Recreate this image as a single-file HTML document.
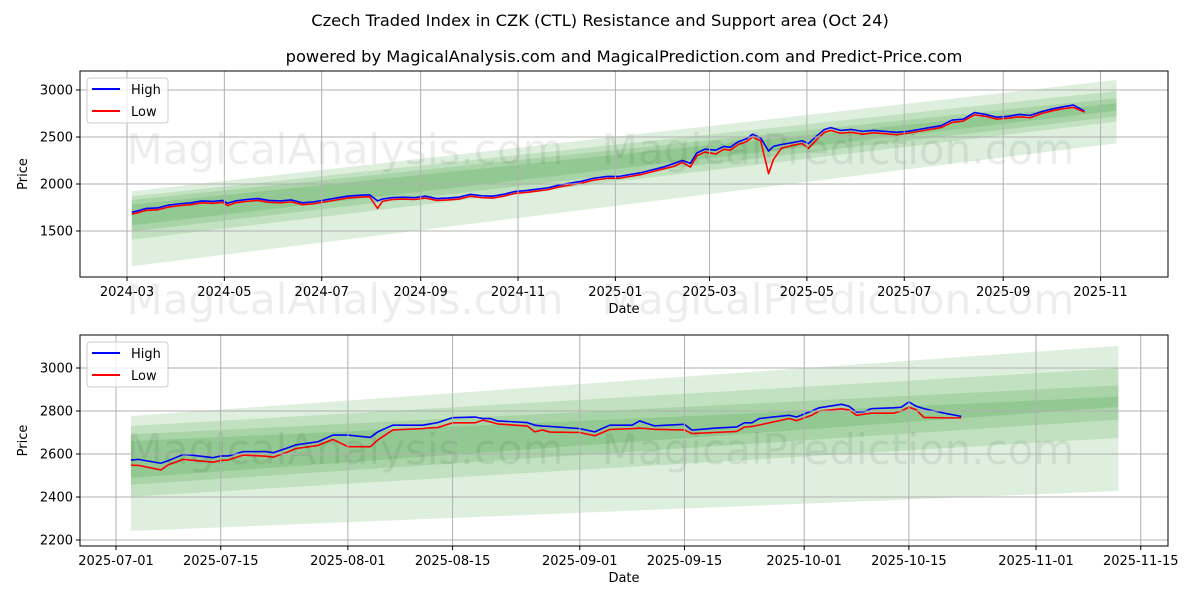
<!DOCTYPE html>
<html><head><meta charset="utf-8"><style>
body{margin:0;background:#fff}
svg{display:block;font-family:"DejaVu Sans","Liberation Sans",sans-serif}
</style></head><body>
<svg id="chart" width="1200" height="600" viewBox="0 0 1200 600" xmlns="http://www.w3.org/2000/svg">
<rect width="1200" height="600" fill="#fff"/>
<text x="600" y="26" text-anchor="middle" font-size="16.3">Czech Traded Index in CZK (CTL) Resistance and Support area (Oct 24)</text>
<text x="624" y="62" text-anchor="middle" font-size="16.3">powered by MagicalAnalysis.com and MagicalPrediction.com and Predict-Price.com</text>
<g id="top"></g>
<g id="bot"></g>
</svg>
<script>
const topDates=["2024-03-04","2024-03-08","2024-03-13","2024-03-20","2024-03-27","2024-04-03","2024-04-10","2024-04-17","2024-04-24","2024-04-30","2024-05-03","2024-05-08","2024-05-15","2024-05-22","2024-05-29","2024-06-05","2024-06-12","2024-06-19","2024-06-26","2024-07-03","2024-07-10","2024-07-17","2024-07-24","2024-07-31","2024-08-05","2024-08-08","2024-08-14","2024-08-21","2024-08-28","2024-09-04","2024-09-11","2024-09-18","2024-09-25","2024-10-02","2024-10-09","2024-10-16","2024-10-23","2024-10-30","2024-11-06","2024-11-13","2024-11-20","2024-11-27","2024-12-04","2024-12-11","2024-12-18","2024-12-27","2025-01-03","2025-01-10","2025-01-17","2025-01-24","2025-01-31","2025-02-07","2025-02-12","2025-02-17","2025-02-21","2025-02-26","2025-03-05","2025-03-10","2025-03-14","2025-03-19","2025-03-24","2025-03-28","2025-04-02","2025-04-07","2025-04-10","2025-04-15","2025-04-22","2025-04-28","2025-05-02","2025-05-07","2025-05-12","2025-05-16","2025-05-22","2025-05-29","2025-06-05","2025-06-12","2025-06-19","2025-06-26","2025-07-03","2025-07-10","2025-07-17","2025-07-24","2025-07-31","2025-08-07","2025-08-14","2025-08-21","2025-08-28","2025-09-04","2025-09-11","2025-09-18","2025-09-25","2025-10-02","2025-10-08","2025-10-15","2025-10-22"];
const topHigh=[1700,1715,1740,1745,1775,1790,1800,1820,1815,1825,1795,1820,1835,1845,1825,1820,1830,1800,1810,1830,1850,1870,1880,1885,1820,1840,1855,1860,1855,1870,1845,1850,1860,1890,1875,1870,1890,1920,1930,1945,1960,1990,2010,2030,2060,2080,2080,2100,2120,2150,2180,2220,2250,2220,2330,2370,2360,2400,2390,2450,2480,2530,2490,2350,2400,2420,2440,2460,2430,2510,2580,2600,2570,2580,2560,2570,2560,2550,2560,2580,2600,2620,2680,2690,2760,2740,2710,2720,2740,2730,2770,2800,2820,2840,2775];
const topLow=[1680,1695,1720,1725,1755,1770,1780,1800,1795,1805,1770,1800,1815,1825,1805,1800,1810,1780,1790,1810,1830,1850,1860,1865,1740,1815,1835,1840,1835,1850,1825,1830,1840,1870,1855,1850,1870,1900,1910,1925,1940,1970,1990,2010,2040,2060,2060,2080,2100,2130,2160,2190,2230,2180,2300,2340,2320,2370,2360,2420,2450,2500,2460,2110,2260,2380,2410,2430,2380,2470,2550,2570,2540,2550,2530,2545,2535,2525,2540,2560,2580,2600,2655,2670,2735,2720,2690,2700,2715,2705,2750,2780,2800,2815,2765];
const topBandStart="2024-03-04", topBandEnd="2025-11-11";
const topBandsLo0=[1125,1408,1496,1560], topBandsHi0=[1921,1868,1830,1780];
const topBandsLo1=[2434,2664,2720,2780], topBandsHi1=[3106,2990,2912,2860];
const topYTicks=[1500,2000,2500,3000];
const topXTicks=["2024-03","2024-05","2024-07","2024-09","2024-11","2025-01","2025-03","2025-05","2025-07","2025-09","2025-11"];

const botDates=["2025-07-03","2025-07-04","2025-07-07","2025-07-08","2025-07-10","2025-07-11","2025-07-14","2025-07-15","2025-07-16","2025-07-18","2025-07-21","2025-07-22","2025-07-24","2025-07-25","2025-07-28","2025-07-30","2025-08-01","2025-08-04","2025-08-05","2025-08-07","2025-08-11","2025-08-12","2025-08-13","2025-08-15","2025-08-18","2025-08-19","2025-08-20","2025-08-21","2025-08-25","2025-08-26","2025-08-27","2025-08-28","2025-09-01","2025-09-03","2025-09-05","2025-09-08","2025-09-09","2025-09-10","2025-09-11","2025-09-15","2025-09-16","2025-09-19","2025-09-22","2025-09-23","2025-09-24","2025-09-25","2025-09-29","2025-09-30","2025-10-02","2025-10-03","2025-10-06","2025-10-07","2025-10-08","2025-10-09","2025-10-10","2025-10-13","2025-10-14","2025-10-15","2025-10-16","2025-10-17","2025-10-20","2025-10-22"];
const botHigh=[2572,2575,2557,2569,2598,2595,2583,2591,2591,2611,2611,2606,2629,2642,2657,2688,2688,2677,2703,2734,2734,2740,2746,2769,2772,2765,2765,2754,2746,2734,2730,2728,2718,2703,2734,2734,2754,2742,2731,2738,2711,2720,2726,2745,2745,2765,2780,2772,2800,2815,2831,2822,2795,2797,2811,2815,2818,2842,2822,2811,2788,2775];
const botLow=[2548,2547,2526,2550,2575,2572,2562,2570,2572,2595,2590,2585,2610,2625,2640,2668,2634,2634,2665,2712,2718,2722,2723,2745,2745,2757,2750,2740,2730,2703,2712,2702,2700,2685,2714,2718,2720,2718,2715,2712,2695,2700,2705,2725,2728,2735,2765,2755,2780,2800,2810,2805,2780,2785,2790,2790,2800,2818,2805,2770,2768,2768];
const botBandStart="2025-07-03", botBandEnd="2025-11-12";
const botBandsLo0=[2242,2402,2457,2489], botBandsHi0=[2777,2730,2691,2660];
const botBandsLo1=[2428,2675,2760,2819], botBandsHi1=[3103,2998,2919,2866];
const botYTicks=[2200,2400,2600,2800,3000];
const botXTicks=["2025-07-01","2025-07-15","2025-08-01","2025-08-15","2025-09-01","2025-09-15","2025-10-01","2025-10-15","2025-11-01","2025-11-15"];

const NS="http://www.w3.org/2000/svg";
function mk(parent,tag,attrs){const e=document.createElementNS(NS,tag);for(const k in attrs)e.setAttribute(k,attrs[k]);parent.appendChild(e);return e;}
function dnum(s){const p=s.split("-").map(Number);return Date.UTC(p[0],p[1]-1,p[2]||1)/86400000;}

function panel(g,o){
  const L=80,R=1168,T=o.top,B=o.bottom;
  const X=d=>L+(dnum(d)-o.x0)/(o.x1-o.x0)*(R-L);
  const Y=v=>B-(v-o.y0)/(o.y1-o.y0)*(B-T);
  const defs=mk(g,"clipPath",{id:o.id+"clip"});mk(defs,"rect",{x:L,y:T,width:R-L,height:B-T});
  const c=mk(g,"g",{"clip-path":"url(#"+o.id+"clip)"});
  for(let i=0;i<o.lo0.length;i++){
    const p=mk(c,"polygon",{points:`${X(o.bs)},${Y(o.hi0[i])} ${X(o.be)},${Y(o.hi1[i])} ${X(o.be)},${Y(o.lo1[i])} ${X(o.bs)},${Y(o.lo0[i])}`,fill:"rgb(0,128,0)","fill-opacity":"0.13"});
    
    
  }
  [[345,o.wm1,"MagicalAnalysis.com"],[838,o.wm1,"MagicalPrediction.com"]].forEach(w=>{
    const t=mk(g,"text",{x:w[0],y:w[1],"text-anchor":"middle","font-size":"42",fill:"#000","fill-opacity":"0.07"});t.textContent=w[2];
    
    
  });
  o.yt.forEach(v=>{
    const y=Y(v);
    mk(g,"line",{x1:L,x2:R,y1:y,y2:y,stroke:"#b0b0b0","stroke-width":"1"});
    mk(g,"line",{x1:L-4,x2:L,y1:y,y2:y,stroke:"#000"});
    const t=mk(g,"text",{x:L-7,y:y+4.5,"text-anchor":"end","font-size":"13"});t.textContent=v;
    
    
  });
  o.xt.forEach(d=>{
    const x=X(d);
    mk(g,"line",{x1:x,x2:x,y1:T,y2:B,stroke:"#b0b0b0","stroke-width":"1"});
    mk(g,"line",{x1:x,x2:x,y1:B,y2:B+4,stroke:"#000"});
    const t=mk(g,"text",{x:x,y:B+19,"text-anchor":"middle","font-size":"13"});t.textContent=d;
    
    
  });
  const hp=o.dates.map((d,i)=>X(d)+","+Y(o.high[i])).join(" ");
  const lp=o.dates.map((d,i)=>X(d)+","+Y(o.low[i])).join(" ");
  const hl=mk(c,"polyline",{points:hp,fill:"none",stroke:"#0000ff","stroke-width":"1.6","stroke-linejoin":"round"});
  
  
  const ll=mk(c,"polyline",{points:lp,fill:"none",stroke:"#ff0000","stroke-width":"1.6","stroke-linejoin":"round"});
  
  
  mk(g,"rect",{x:L,y:T,width:R-L,height:B-T,fill:"none",stroke:"#000","stroke-width":"1"});
  const yl=mk(g,"text",{x:27,y:(T+B)/2,"text-anchor":"middle","font-size":"13",transform:`rotate(-90 27 ${(T+B)/2})`});yl.textContent="Price";
  
  
  const xl=mk(g,"text",{x:624,y:B+36,"text-anchor":"middle","font-size":"13"});xl.textContent="Date";
  
  
  const lg=mk(g,"g",{});
  
  
  mk(lg,"rect",{x:87,y:T+7,width:81,height:45,rx:3,fill:"#fff","fill-opacity":"0.8",stroke:"#ccc"});
  mk(lg,"line",{x1:92,x2:120,y1:T+18,y2:T+18,stroke:"#0000ff","stroke-width":"2"});
  mk(lg,"line",{x1:92,x2:120,y1:T+40,y2:T+40,stroke:"#ff0000","stroke-width":"2"});
  const t1=mk(lg,"text",{x:131,y:T+23,"font-size":"13"});t1.textContent="High";
  
  
  const t2=mk(lg,"text",{x:131,y:T+45,"font-size":"13"});t2.textContent="Low";
  
  
}
const tx0=dnum("2024-03-01")-(127-80)/1.596, tx1=tx0+1088/1.596;
panel(document.getElementById("top"),{id:"t",top:71,bottom:277,x0:tx0,x1:tx1,y0:1500-46*500/47,y1:3000+19*500/47,
  yt:topYTicks,xt:topXTicks,dates:topDates,high:topHigh,low:topLow,bs:topBandStart,be:topBandEnd,
  lo0:topBandsLo0,hi0:topBandsHi0,lo1:topBandsLo1,hi1:topBandsHi1,wm1:164});
const bx0=dnum("2025-07-01")-(116-80)/7.48, bx1=bx0+1088/7.48;
panel(document.getElementById("bot"),{id:"b",top:335,bottom:546,x0:bx0,x1:bx1,y0:2200-6*200/43,y1:3000+33*200/43,
  yt:botYTicks,xt:botXTicks,dates:botDates,high:botHigh,low:botLow,bs:botBandStart,be:botBandEnd,
  lo0:botBandsLo0,hi0:botBandsHi0,lo1:botBandsLo1,hi1:botBandsHi1,wm1:464});
[[345,"MagicalAnalysis.com"],[838,"MagicalPrediction.com"]].forEach(w=>{
  const t=mk(document.getElementById("chart"),"text",{x:w[0],y:314,"text-anchor":"middle","font-size":"42",fill:"#000","fill-opacity":"0.07"});t.textContent=w[1];
  
  
});
</script>
</body></html>
